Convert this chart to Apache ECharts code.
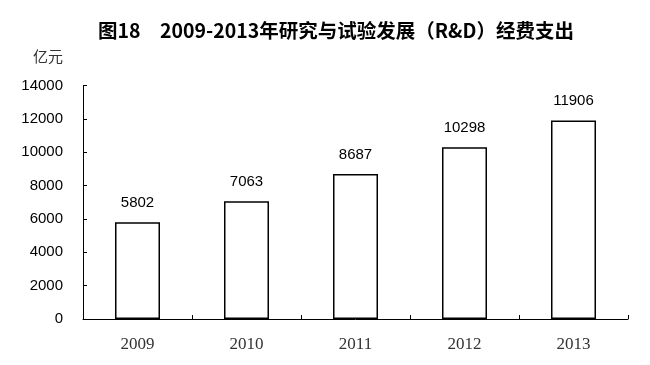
<!DOCTYPE html>
<html><head><meta charset="utf-8">
<script src="https://cdn.jsdelivr.net/npm/echarts@6/dist/echarts.min.js"></script>
<style>html,body{margin:0;padding:0;background:#fff}#c{width:650px;height:365px}</style>
</head><body><div id="c"></div>
<script>
const titleText = "图18\u30002009-2013年研究与试验发展（R&D）经费支出";
const unitText = "亿元";
const categories = ["2009", "2010", "2011", "2012", "2013"];
const values = [5802, 7063, 8687, 10298, 11906];
const yMin = 0, yMax = 14000, yStep = 2000;

const chart = echarts.init(document.getElementById('c'), null, {renderer: 'canvas'});
chart.setOption({
  animation: false,
  backgroundColor: '#fff',
  title: {
    text: titleText, left: 93, top: 16,
    textStyle: {fontFamily: '"Noto Sans CJK SC", sans-serif', fontWeight: 'bold', fontSize: 19.5, color: '#000'}
  },
  grid: {left: 83, right: 22, top: 85.5, bottom: 46},
  xAxis: {
    type: 'category', data: categories,
    axisLine: {lineStyle: {color: '#000', width: 1}},
    axisTick: {show: true, inside: true, length: 4, alignWithLabel: false, lineStyle: {color: '#000'}},
    axisLabel: {margin: 17, fontFamily: '"Liberation Serif", serif', fontSize: 17, color: '#333'}
  },
  yAxis: {
    type: 'value', min: yMin, max: yMax, interval: yStep,
    name: unitText, nameLocation: 'end', nameGap: 0,
    nameTextStyle: {fontFamily: '"Noto Sans CJK SC", sans-serif', fontSize: 15, color: '#333', align: 'right', verticalAlign: 'bottom', padding: [0, 20, 22, 0]},
    splitLine: {show: false},
    axisLine: {show: true, lineStyle: {color: '#000', width: 1}},
    axisTick: {show: true, inside: true, length: 4, lineStyle: {color: '#000'}},
    axisLabel: {margin: 20, fontFamily: '"Liberation Sans", Arial, sans-serif', fontSize: 15, color: '#000', formatter: v => String(v)}
  },
  series: [{
    type: 'bar', data: values, barWidth: 45,
    itemStyle: {color: '#fff', borderColor: '#000', borderWidth: 1.5},
    label: {show: true, position: 'top', distance: 12, fontFamily: '"Liberation Sans", Arial, sans-serif', fontSize: 15, color: '#000'}
  }]
});
</script></body></html>
